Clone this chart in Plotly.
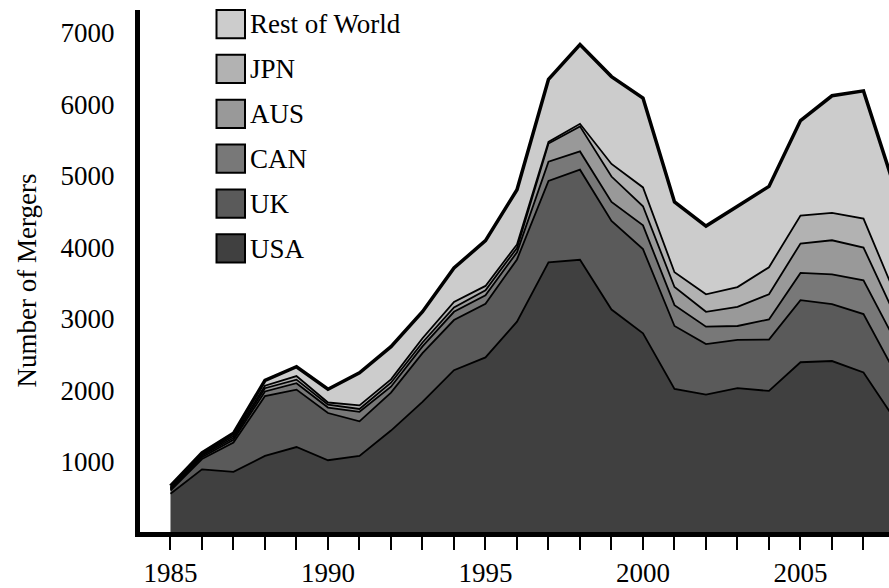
import plotly.graph_objects as go

years = list(range(1985, 2009))
usa = [555, 895, 860, 1083, 1208, 1023, 1083, 1438, 1840, 2282, 2460, 2960,
       3790, 3825, 3130, 2798, 2020, 1940, 2030, 1992, 2393, 2410, 2250, 1590]
uk = [45, 145, 410, 837, 802, 660, 484, 530, 681, 701, 750, 870,
      1138, 1260, 1237, 1176, 880, 706, 677, 719, 867, 795, 816, 660]
can = [20, 25, 40, 65, 90, 77, 133, 83, 93, 115, 120, 100,
       268, 255, 266, 332, 291, 245, 193, 281, 382, 415, 471, 450]
aus = [15, 20, 25, 45, 50, 40, 40, 56, 55, 60, 70, 60,
       254, 350, 356, 268, 253, 207, 267, 351, 411, 478, 460, 350]
jpn = [10, 15, 25, 35, 50, 30, 50, 47, 60, 79, 60, 50,
       23, 36, 176, 263, 207, 245, 277, 378, 391, 383, 405, 300]
row = [20, 25, 40, 75, 130, 185, 455, 456, 371, 473, 634, 764,
       876, 1107, 1221, 1249, 982, 954, 1130, 1130, 1328, 1637, 1785, 1470]

series_names = ["USA", "UK", "CAN", "AUS", "JPN", "Rest of World"]
series_values = [usa, uk, can, aus, jpn, row]
series_colors = ["#404040", "#5a5a5a", "#787878", "#999999", "#b2b2b2", "#cccccc"]
line_widths = [1.8, 1.8, 1.8, 1.8, 1.8, 3.5]

x_tick_years = list(range(1985, 2008))
x_tick_labels = [str(y) if y % 5 == 0 else "" for y in x_tick_years]
y_tick_vals = [1000, 2000, 3000, 4000, 5000, 6000, 7000]

FONT = "Liberation Serif"
FS = 27
W, H = 889, 588
ML, MR, MT, MB = 140, 0, 10, 51
PW, PH = W - ML - MR, H - MT - MB

fig = go.Figure()
for name, vals, col, lw in zip(series_names, series_values, series_colors, line_widths):
    fig.add_trace(go.Scatter(
        x=years, y=vals, name=name, mode="lines", stackgroup="one",
        fillcolor=col, line=dict(color="black", width=lw),
        showlegend=False, hoverinfo="skip",
    ))

def px_to_paper(px, py):
    return (px - ML) / PW, 1 - (py - MT) / PH

shapes = []
annotations = []
for i, (name, col) in enumerate(zip(series_names[::-1], series_colors[::-1])):
    top = 10 + 45.3 * i
    x0, y0 = px_to_paper(216.5, top)
    x1, y1 = px_to_paper(245, top + 28.5)
    shapes.append(dict(type="rect", xref="paper", yref="paper", x0=x0, x1=x1, y0=y1, y1=y0,
                       fillcolor=col, line=dict(color="black", width=2)))
    tx, ty = px_to_paper(248, top + 14.5)
    annotations.append(dict(xref="paper", yref="paper", x=tx, y=ty, text=name, showarrow=False,
                            xanchor="left", yanchor="middle", font=dict(family=FONT, size=FS, color="black")))

lx, ly = px_to_paper(27, 283)
annotations.append(dict(xref="paper", yref="paper", x=lx, y=ly, text="Number of Mergers", showarrow=False,
                        textangle=-90, xanchor="center", yanchor="middle",
                        font=dict(family=FONT, size=FS, color="black")))

fig.update_layout(
    width=W, height=H,
    margin=dict(l=ML, r=MR, t=MT, b=MB),
    paper_bgcolor="white", plot_bgcolor="white",
    shapes=shapes, annotations=annotations,
    showlegend=False,
    font=dict(family=FONT, size=FS, color="black"),
)
fig.update_xaxes(
    range=[1984.032, 2007.81], showgrid=False, zeroline=False,
    showline=True, linewidth=5, linecolor="black",
    tickmode="array", tickvals=x_tick_years, ticktext=x_tick_labels,
    ticks="outside", ticklen=13, tickwidth=2, tickcolor="black",
    tickfont=dict(family=FONT, size=FS, color="black"),
)
fig.update_yaxes(
    range=[20, 7317], showgrid=False, zeroline=False,
    showline=True, linewidth=5, linecolor="black",
    tickmode="array", tickvals=y_tick_vals,
    ticks="outside", ticklen=15, tickcolor="rgba(0,0,0,0)",
    tickfont=dict(family=FONT, size=FS, color="black"),
)

fig.write_html(
    "out.html",
    default_width=f"{W}px", default_height=f"{H}px",
    config={"displayModeBar": False},
    post_script="document.body.style.margin='0';document.body.style.overflow='hidden';",
)
